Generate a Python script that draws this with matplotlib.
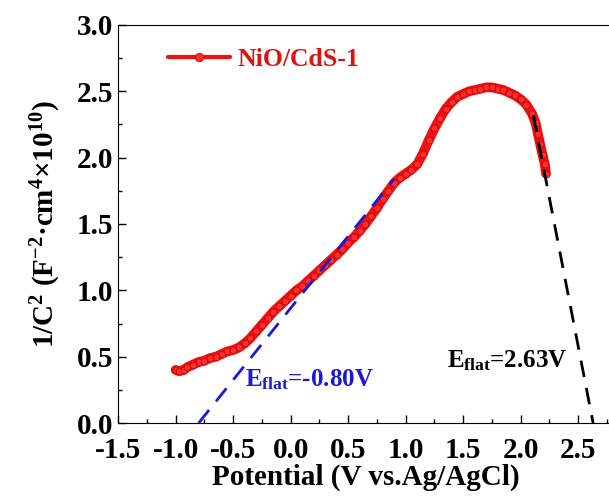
import matplotlib
matplotlib.use('Agg')
import matplotlib.pyplot as plt
import numpy as np

# Mott-Schottky data
potential = [-1.00, -0.97, -0.93, -0.90, -0.85, -0.80, -0.75, -0.70, -0.65, -0.60,
             -0.55, -0.50, -0.45, -0.40, -0.35, -0.30, -0.25, -0.20, -0.15, -0.10,
             -0.05, 0.00, 0.05, 0.10, 0.15, 0.20, 0.25, 0.30, 0.35, 0.40,
             0.45, 0.50, 0.55, 0.60, 0.65, 0.70, 0.75, 0.80, 0.85, 0.90,
             0.95, 1.00, 1.05, 1.10, 1.15, 1.20, 1.25, 1.30, 1.35, 1.40,
             1.45, 1.50, 1.55, 1.60, 1.65, 1.70, 1.75, 1.80, 1.85, 1.90,
             1.95, 2.00, 2.05, 2.10, 2.13, 2.15, 2.17, 2.19, 2.21, 2.22]
inv_c2 = [0.40, 0.39, 0.40, 0.42, 0.44, 0.46, 0.47, 0.49, 0.50, 0.52,
          0.54, 0.55, 0.57, 0.60, 0.64, 0.69, 0.74, 0.79, 0.84, 0.88,
          0.92, 0.96, 1.00, 1.03, 1.07, 1.11, 1.15, 1.19, 1.23, 1.27,
          1.31, 1.36, 1.40, 1.45, 1.50, 1.56, 1.62, 1.69, 1.75, 1.81,
          1.85, 1.88, 1.91, 1.95, 2.03, 2.13, 2.22, 2.30, 2.37, 2.42,
          2.46, 2.48, 2.50, 2.51, 2.52, 2.53, 2.53, 2.52, 2.51, 2.49,
          2.47, 2.44, 2.40, 2.33, 2.26, 2.18, 2.10, 2.02, 1.95, 1.88]

# tangent lines
fit_n_x = [-0.80, 0.90]
fit_n_y = [0.00, 1.84]
fit_p_x = [2.11, 2.63]
fit_p_y = [2.32, 0.00]

plt.rcParams['font.family'] = 'Liberation Serif'
plt.rcParams['font.weight'] = 'bold'
plt.rcParams['mathtext.default'] = 'regular'

fig = plt.figure(figsize=(6.09, 5.0), dpi=100)
ax = fig.add_axes([0.194, 0.154, 0.812, 0.796])

ax.plot(potential, inv_c2, color='#f01010', lw=7, marker='o', ms=5,
        mfc='#f83030', mec='#d00000', mew=0.6, label='NiO/CdS-1',
        solid_capstyle='round')
ax.plot(fit_n_x, fit_n_y, color='#1a1ad6', lw=2, dashes=(6, 4))
ax.plot(fit_p_x, fit_p_y, color='black', lw=2, dashes=(6, 4))

ax.text(-0.40, 0.33, 'E$_{flat}$=-0.80V', color='#1a1ad6', fontsize=18,
        fontweight='bold', va='center')
ax.text(1.36, 0.47, 'E$_{flat}$=2.63V', color='black', fontsize=18,
        fontweight='bold', va='center')

ax.set_xlim(-1.5, 2.8)
ax.set_ylim(0, 3.0)
ax.set_xticks(np.arange(-1.5, 2.6, 0.5))
ax.set_yticks(np.arange(0, 3.01, 0.5))
ax.set_xticks(np.arange(-1.5, 2.8, 0.25), minor=True)
ax.set_yticks(np.arange(0, 3.01, 0.25), minor=True)
ax.set_xticklabels(['%.1f' % v for v in np.arange(-1.5, 2.6, 0.5)])
ax.set_yticklabels(['%.1f' % v for v in np.arange(0, 3.01, 0.5)])
ax.tick_params(which='both', direction='in', labelsize=21, width=1)
ax.tick_params(which='major', length=6)
ax.tick_params(which='minor', length=3)
ax.tick_params(axis='x', pad=10)
ax.spines['right'].set_visible(False)

ax.set_xlabel('Potential (V vs.Ag/AgCl)', fontsize=21, fontweight='bold', labelpad=0)
ax.set_ylabel('1/C$^2$ (F$^{-2}$·cm$^4$×10$^{10}$)', fontsize=21,
              fontweight='bold', labelpad=10)

leg = ax.legend(loc='upper left', frameon=False, numpoints=1, handlelength=2.4,
                handletextpad=0.3, bbox_to_anchor=(0.055, 1.0),
                prop={'size': 18.5, 'weight': 'bold'})
for t in leg.get_texts():
    t.set_color('#e01010')
leg.legend_handles[0].set_linewidth(3)
leg.legend_handles[0].set_markersize(6)

fig.savefig('out.png', dpi=100)
